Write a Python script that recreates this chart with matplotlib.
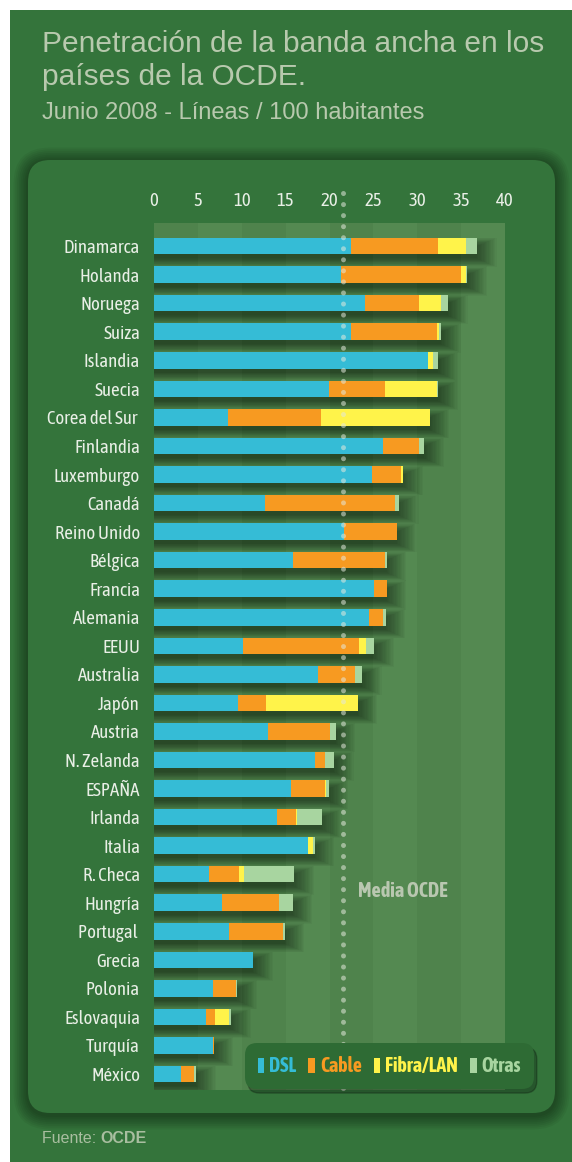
"""Penetración de la banda ancha en los países de la OCDE (junio 2008)."""

import matplotlib

matplotlib.use("Agg")

import matplotlib.pyplot as plt  # noqa: E402
import numpy as np  # noqa: E402
from matplotlib import font_manager  # noqa: E402
from matplotlib.patches import FancyBboxPatch, Patch, Rectangle  # noqa: E402

# --- datos (líneas por 100 habitantes) ---
PAISES = [
    "Dinamarca", "Holanda", "Noruega", "Suiza", "Islandia", "Suecia",
    "Corea del Sur ", "Finlandia", "Luxemburgo", "Canadá", "Reino Unido",
    "Bélgica", "Francia", "Alemania", "EEUU", "Australia", "Japón", "Austria",
    "N. Zelanda", "ESPAÑA", "Irlanda", "Italia", "R. Checa", "Hungría",
    "Portugal ", "Grecia", "Polonia", "Eslovaquia", "Turquía", "México",
]
DSL = [22.5, 21.3, 24.1, 22.5, 31.2, 19.9, 8.4, 26.1, 24.8, 12.6, 21.7, 15.8,
       25.1, 24.5, 10.1, 18.7, 9.6, 13.0, 18.4, 15.6, 14.0, 17.6, 6.3, 7.8,
       8.6, 11.3, 6.7, 5.9, 6.7, 3.1]
CABLE = [9.9, 13.7, 6.1, 9.7, 0.0, 6.4, 10.6, 4.1, 3.4, 14.9, 6.0, 10.5,
         1.4, 1.6, 13.3, 4.2, 3.2, 7.1, 1.1, 3.9, 2.2, 0.0, 3.4, 6.5,
         6.1, 0.0, 2.7, 1.0, 0.1, 1.5]
FIBRA = [3.2, 0.5, 2.5, 0.3, 0.6, 6.0, 12.4, 0.0, 0.2, 0.0, 0.0, 0.0,
         0.0, 0.0, 0.8, 0.0, 10.4, 0.0, 0.0, 0.1, 0.15, 0.5, 0.6, 0.0,
         0.0, 0.0, 0.0, 1.6, 0.0, 0.0]
OTRAS = [1.2, 0.2, 0.8, 0.2, 0.6, 0.1, 0.0, 0.6, 0.0, 0.4, 0.0, 0.2,
         0.0, 0.3, 0.9, 0.8, 0.0, 0.6, 1.0, 0.3, 2.8, 0.2, 5.7, 1.5,
         0.2, 0.0, 0.1, 0.3, 0.0, 0.2]
SERIES = ["DSL", "Cable", "Fibra/LAN", "Otras"]
MEDIA_OCDE = 21.5
XTICKS = [0, 5, 10, 15, 20, 25, 30, 35, 40]

# --- estilo ---
BG = "#34743b"
BAND_A = "#4f834c"
BAND_B = "#548951"
COLORS = ["#35bcd6", "#f79a21", "#fff34a", "#a8d5a0"]
TITLE = "#b8c9ae"
LABEL = "#e9efe6"
SANS = ["Liberation Sans", "DejaVu Sans"]


def _is_narrow(f):
    return "Narrow" in f.name or "Condensed" in f.name


def _is_bold(f):
    w = f.weight
    return w in ("bold", "heavy", "black") or (isinstance(w, int) and w >= 600)


_fonts = font_manager.fontManager.ttflist
_regular = {f.name for f in _fonts if _is_narrow(f) and not _is_bold(f)}
_bold = {f.name for f in _fonts if _is_narrow(f) and _is_bold(f)}
_both = sorted(_regular & _bold)
if _both:
    NARROW = {"family": [_both[0], "DejaVu Sans"]}
    NARROW_B = dict(NARROW, weight="bold")
    BSCALE = 1.0
elif _regular:
    NARROW = {"family": [sorted(_regular)[0], "DejaVu Sans"]}
    NARROW_B = {"family": SANS, "weight": "bold"}
    BSCALE = 0.84
else:
    NARROW = {"family": ["Roboto", "DejaVu Sans"]}
    NARROW_B = {"family": ["Roboto", "DejaVu Sans"], "weight": "bold"}
    BSCALE = 0.86

W, H = 572, 1162
fig = plt.figure(figsize=(W / 100, H / 100), dpi=100)
fig.patch.set_facecolor("white")
inch = fig.dpi_scale_trans

# fondo verde (margen blanco arriba y a la izquierda)
fig.add_artist(Rectangle((0.10, 0), 5.62, 11.52, transform=inch,
                         facecolor=BG, edgecolor="none", zorder=0))

# panel redondeado con sombra
px0, py0, pw, ph = 0.28, 0.49, 5.27, 9.53
for i in range(8, 0, -1):
    d = i * 0.018
    fig.add_artist(FancyBboxPatch((px0 - d, py0 - d - 0.02), pw + 2 * d, ph + 2 * d,
                                  boxstyle=f"round,pad=0,rounding_size={0.22 + d}",
                                  transform=inch, facecolor="black", alpha=0.05,
                                  edgecolor="none", zorder=0.5))
fig.add_artist(FancyBboxPatch((px0, py0), pw, ph,
                              boxstyle="round,pad=0,rounding_size=0.22",
                              transform=inch, facecolor=BG, edgecolor="none",
                              zorder=0.6))

# títulos
fig.text(42 / W, 1 - 52 / H, "Penetración de la banda ancha en los",
         family=SANS, fontsize=21.5, color=TITLE, va="baseline")
fig.text(42 / W, 1 - 85 / H, "países de la OCDE.",
         family=SANS, fontsize=21.5, color=TITLE, va="baseline")
fig.text(42 / W, 1 - 119 / H, "Junio 2008 - Líneas / 100 habitantes",
         family=SANS, fontsize=17, color=TITLE, va="baseline")
src = fig.text(42 / W, 1 - 1143 / H, "Fuente: ", family=SANS, fontsize=11.5,
               color="#a9bea0", va="baseline")

# --- gráfico ---
ax = fig.add_axes([154 / W, 1 - 1090 / H, 351 / W, 867 / H])
ax.set_zorder(2)
ax.patch.set_alpha(0)
n = len(PAISES)
y = np.arange(n)
dsl, cab, fib, otr = (np.array(v) for v in (DSL, CABLE, FIBRA, OTRAS))
total = dsl + cab + fib + otr

for k, x0 in enumerate(XTICKS[:-1]):
    ax.axvspan(x0, x0 + 5, color=BAND_A if k % 2 == 0 else BAND_B, lw=0, zorder=0)

# sombras difusas de las barras
for i in range(16):
    ax.barh(y + 0.22, total + 0.15 * i, height=0.42 + 0.04 * i,
            color="black", alpha=0.03, lw=0, zorder=1)

left = np.zeros(n)
for vals, col in zip((dsl, cab, fib, otr), COLORS):
    ax.barh(y, vals, left=left, height=0.58, color=col, lw=0, zorder=2)
    left += vals

ax.plot([MEDIA_OCDE, MEDIA_OCDE], [-1.86, 29.6], color="#e3e8dc", alpha=0.55,
        lw=3.6, linestyle=(0, (0.01, 2.2)), dash_capstyle="round",
        clip_on=False, zorder=3)
ax.text(23.25, 22.6, "Media OCDE", **NARROW_B, fontsize=14.5 * BSCALE,
        color="#b9c7b0", va="center", ha="left", zorder=3)

ax.set_xlim(0, 40)
ax.set_ylim(n - 1 + 0.56, -0.81)
ax.xaxis.tick_top()
ax.set_xticks(XTICKS)
ax.set_xticklabels([str(t) for t in XTICKS], **NARROW, fontsize=13.5,
                   color=LABEL)
ax.set_yticks(y)
ax.set_yticklabels(PAISES, **NARROW, fontsize=13.5, color=LABEL)
ax.tick_params(length=0)
ax.tick_params(axis="x", pad=9)
ax.tick_params(axis="y", pad=10)
for s in ax.spines.values():
    s.set_visible(False)

# "Fuente: OCDE" con la segunda parte en negrita
ax.annotate("OCDE", xy=(1, 0), xycoords=src, xytext=(0, 0),
            textcoords="offset points", family=SANS, fontsize=11.5,
            weight="bold", color="#a9bea0", va="bottom", ha="left",
            annotation_clip=False)

handles = [Patch(facecolor=c, edgecolor="none") for c in COLORS]
prop = dict(NARROW_B, size=14.3 * BSCALE)
leg = ax.legend(handles, SERIES, ncol=4, loc="center",
                bbox_to_anchor=(389.5 / W, 1 - 1066 / H),
                bbox_transform=fig.transFigure, prop=prop,
                labelcolor=COLORS, handlelength=0.33, handleheight=0.8,
                handletextpad=0.25, columnspacing=0.6, borderpad=0.45,
                facecolor="#2e6b34", edgecolor="none", framealpha=1,
                shadow={"color": "black", "alpha": 0.25, "ox": 2, "oy": -3})
leg.get_frame().set_boxstyle("round", pad=0.2, rounding_size=0.6)
leg.set_zorder(5)

fig.savefig("out.png", dpi=100)
